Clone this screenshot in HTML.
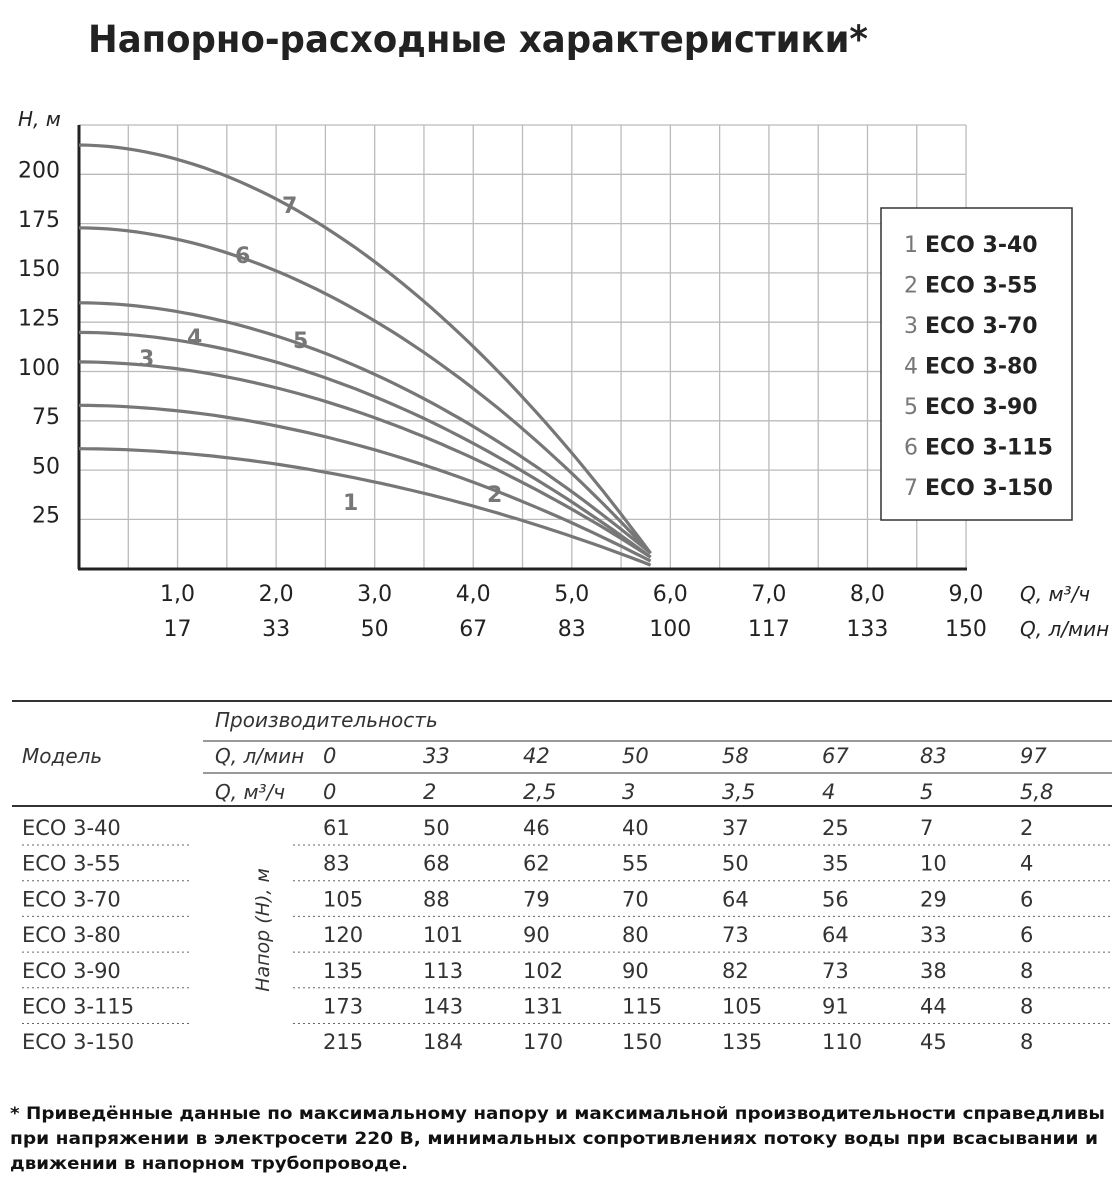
<!DOCTYPE html>
<html><head><meta charset="utf-8"><style>
body{margin:0;background:#fff;width:1120px;height:1190px;overflow:hidden;font-family:"Liberation Sans","DejaVu Sans",sans-serif;}
svg text{font-family:"DejaVu Sans","Liberation Sans",sans-serif;}
</style></head><body>
<svg id="s" width="1120" height="1190" xmlns="http://www.w3.org/2000/svg">
<text x="88" y="52" font-size="37" font-weight="bold" fill="#222" textLength="780" lengthAdjust="spacingAndGlyphs">Напорно-расходные характеристики*</text>
<g id="grid" stroke="#bbb" stroke-width="1.3"></g>
<line x1="79" y1="125" x2="79" y2="569" stroke="#222" stroke-width="3"/>
<line x1="78" y1="569" x2="967" y2="569" stroke="#222" stroke-width="3"/>
<text x="18" y="126" font-size="20" font-style="italic" fill="#222">H, м</text>
<g id="ylab" font-size="22" fill="#222" text-anchor="end"></g>
<g id="xlab" font-size="22" fill="#222" text-anchor="middle"></g>
<text x="1020" y="601" font-size="20" font-style="italic" fill="#222">Q, м³/ч</text>
<text x="1020" y="636" font-size="20" font-style="italic" fill="#222">Q, л/мин</text>
<g id="curves" fill="none" stroke="#777" stroke-width="3.2"></g>
<g font-size="22" font-weight="bold" fill="#777">
<text x="282" y="213">7</text><text x="235" y="263">6</text><text x="293" y="348">5</text>
<text x="187" y="345">4</text><text x="139" y="366">3</text><text x="487" y="502">2</text><text x="343" y="510">1</text>
</g>
<rect x="881" y="208" width="191" height="312" fill="#fff" stroke="#333" stroke-width="1.5"/>
<g id="leg" font-size="22" fill="#222"></g>
<line x1="12" y1="701" x2="1112" y2="701" stroke="#333" stroke-width="2"/>
<line x1="12" y1="806" x2="1112" y2="806" stroke="#333" stroke-width="2"/>
<line x1="203" y1="741" x2="1112" y2="741" stroke="#333" stroke-width="1"/>
<line x1="203" y1="773" x2="1112" y2="773" stroke="#333" stroke-width="1"/>
<g font-size="20" font-style="italic" fill="#333">
<text x="215" y="727">Производительность</text>
<text x="22" y="763">Модель</text>
<text x="215" y="763">Q, л/мин</text>
<text x="215" y="799">Q, м³/ч</text>
</g>
<g id="tbl" font-size="21" fill="#333"></g>
<text transform="translate(269,930) rotate(-90)" text-anchor="middle" font-size="19" font-style="italic" fill="#333">Напор (H), м</text>
<g font-size="17" font-weight="bold" fill="#111">
<text x="10" y="1119" textLength="1095" lengthAdjust="spacingAndGlyphs">* Приведённые данные по максимальному напору и максимальной производительности справедливы</text>
<text x="10" y="1144" textLength="1088" lengthAdjust="spacingAndGlyphs">при напряжении в электросети 220 В, минимальных сопротивлениях потоку воды при всасывании и</text>
<text x="10" y="1169" textLength="398" lengthAdjust="spacingAndGlyphs">движении в напорном трубопроводе.</text>
</g>
</svg>
<script>
const NS="http://www.w3.org/2000/svg";
function el(p,t,a,txt){const e=document.createElementNS(NS,t);for(const k in a)e.setAttribute(k,a[k]);if(txt!==undefined)e.textContent=txt;document.getElementById(p).appendChild(e);return e;}
const X=q=>79+98.55*q, Y=h=>569-1.972*h;
for(let i=1;i<=18;i++){const x=79+i*49.28;el("grid","line",{x1:x,y1:125,x2:x,y2:569});}
for(let i=0;i<9;i++){const y=125+i*49.3;el("grid","line",{x1:79,y1:y,x2:966,y2:y});}
[200,175,150,125,100,75,50,25].forEach(v=>el("ylab","text",{x:60,y:Y(v)+3},v));
const lm=[17,33,50,67,83,100,117,133,150];
for(let i=1;i<=9;i++){el("xlab","text",{x:X(i),y:601},i.toFixed(1).replace('.',','));el("xlab","text",{x:X(i),y:636},lm[i-1]);}
const D=[[61,50,46,40,37,25,7,2],[83,68,62,55,50,35,10,4],[105,88,79,70,64,56,29,6],[120,101,90,80,73,64,33,6],[135,113,102,90,82,73,38,8],[173,143,131,115,105,91,44,8],[215,184,170,150,135,110,45,8]];
D.forEach(r=>{const h0=r[0],he=r[7];let d="";for(let i=0;i<=60;i++){const q=5.8*i/60;const t=q/5.8;const h=h0-(h0-he)*Math.pow(t,1.9);d+=(i?"L":"M")+X(q).toFixed(1)+","+Y(h).toFixed(1);}el("curves","path",{d});});
const names=["ECO 3-40","ECO 3-55","ECO 3-70","ECO 3-80","ECO 3-90","ECO 3-115","ECO 3-150"];
names.forEach((n,i)=>{const t=el("leg","text",{x:904,y:252+i*40.5});const a=document.createElementNS(NS,"tspan");a.setAttribute("fill","#777");a.textContent=(i+1)+" ";t.appendChild(a);const b=document.createElementNS(NS,"tspan");b.setAttribute("font-weight","bold");b.textContent=n;t.appendChild(b);});
const cx=[323,423,523,622,722,822,920,1020];
const hq=["0","33","42","50","58","67","83","97"],hm=["0","2","2,5","3","3,5","4","5","5,8"];
cx.forEach((x,i)=>{el("tbl","text",{x:x,y:763,"font-style":"italic"},hq[i]);el("tbl","text",{x:x,y:799,"font-style":"italic"},hm[i]);});
names.forEach((n,r)=>{const y=835+r*35.7;el("tbl","text",{x:22,y:y},n);D[r].forEach((v,i)=>el("tbl","text",{x:cx[i],y:y},v));
if(r<6){el("tbl","line",{x1:22,y1:y+10,x2:192,y2:y+10,stroke:"#666","stroke-dasharray":"2,3"});el("tbl","line",{x1:293,y1:y+10,x2:1112,y2:y+10,stroke:"#666","stroke-dasharray":"2,3"});}});
</script>
</body></html>
